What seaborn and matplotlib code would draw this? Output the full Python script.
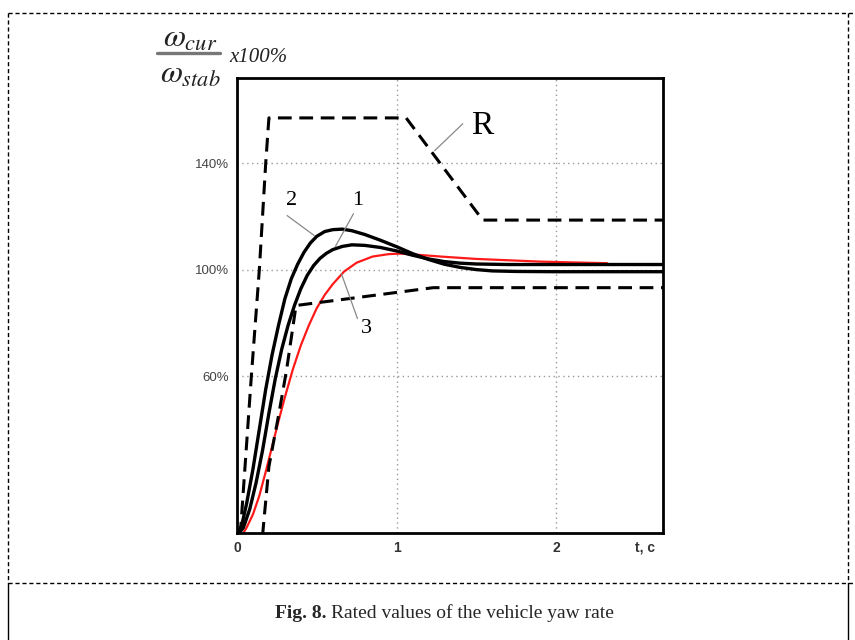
import numpy as np
import pandas as pd
import matplotlib
matplotlib.use("Agg")
import matplotlib.pyplot as plt
from matplotlib.lines import Line2D
import seaborn as sns

# ---- data (t in s, value in %) ----
r_upper_t = [0.02, 0.09, 0.14, 0.18, 0.20, 1.06, 1.54, 2.67]
r_upper_v = [0, 60, 100, 140, 157, 157, 118.6, 118.6]

r_lower_t = [0.16, 0.20, 0.26, 0.31, 0.37, 1.23, 2.67]
r_lower_v = [0, 26, 45, 62, 86.5, 93.2, 93.2]

c2_t = [0, 0.03, 0.06, 0.10, 0.14, 0.18, 0.22, 0.26, 0.30, 0.34, 0.38, 0.42,
        0.46, 0.50, 0.55, 0.60, 0.66, 0.72, 0.80, 0.90, 1.00, 1.10, 1.20, 1.30,
        1.40, 1.50, 1.60, 1.75, 2.00, 2.67]
c2_v = [0, 4, 12, 25, 40, 55, 68, 79, 89, 96.5, 102, 106.5,
        110, 112.5, 114.3, 115, 115.2, 114.6, 113.2, 111, 108.6, 106, 103.8, 102,
        100.8, 100, 99.5, 99.3, 99.2, 99.2]

c1_t = [0, 0.04, 0.08, 0.12, 0.16, 0.20, 0.24, 0.28, 0.32, 0.36, 0.40, 0.44,
        0.48, 0.52, 0.56, 0.60, 0.66, 0.72, 0.80, 0.90, 1.00, 1.10, 1.20, 1.30,
        1.40, 1.50, 1.70, 2.67]
c1_v = [0, 3, 10, 20, 32, 46, 59, 70, 79, 86.5, 92.8, 97.8,
        101.5, 104.2, 106.1, 107.5, 108.7, 109.3, 109.1, 108.3, 107, 105.4, 104, 103,
        102.4, 102.1, 101.9, 101.9]

c3_t = [0.03, 0.06, 0.10, 0.14, 0.18, 0.22, 0.26, 0.30, 0.35, 0.40, 0.45, 0.50,
        0.55, 0.60, 0.67, 0.75, 0.85, 0.95, 1.02, 1.10, 1.30, 1.50, 1.70, 1.90,
        2.10, 2.32]
c3_v = [0, 3, 8, 15, 24, 33.5, 43, 52, 62.5, 71.5, 79, 85.5,
        90.5, 94.5, 99.2, 102.6, 104.9, 105.8, 106, 105.7, 104.8, 104, 103.5, 103,
        102.7, 102.4]

y_ticks = [60, 100, 140]
y_tick_labels = ["60%", "100%", "140%"]
x_ticks = [0, 1, 2]
x_tick_labels = ["0", "1", "2"]

labels_txt = ["2", "1", "3"]
labels_xy = [(0.34, 125.9), (0.755, 125.9), (0.81, 77.8)]
leaders = [((0.314, 120.3), (0.484, 112.8)),
           ((0.73, 121.0), (0.616, 108.6)),
           ((0.654, 98.5), (0.755, 81.6))]
r_label_xy = (1.535, 154)
r_leader = ((1.415, 154.8), (1.239, 144.7))

# ---- figure ----
sns.set_style("white")
plt.rcParams["mathtext.fontset"] = "stix"

W, H = 855, 640
fig = plt.figure(figsize=(W / 100, H / 100), dpi=100)
ax = fig.add_axes([237 / W, 1 - 533 / H, (663 - 237) / W, (533 - 78) / H])

series = [
    ("R_up", r_upper_t, r_upper_v),
    ("R_low", r_lower_t, r_lower_v),
    ("c2", c2_t, c2_v),
    ("c1", c1_t, c1_v),
    ("c3", c3_t, c3_v),
]
frames = []
for name, t, v in series:
    frames.append(pd.DataFrame({"t": t, "v": v, "s": name}))
df = pd.concat(frames, ignore_index=True)

for name, style in [("c3", dict(color="#ff1a1a", lw=1.6)),
                    ("c2", dict(color="black", lw=2.4)),
                    ("c1", dict(color="black", lw=2.4)),
                    ("R_up", dict(color="black", lw=2.2, dashes=(4.5, 2.5))),
                    ("R_low", dict(color="black", lw=2.2, dashes=(4.5, 2.5)))]:
    sub = df[df["s"] == name]
    kw = dict(color=style["color"], linewidth=style["lw"], sort=False,
              estimator=None)
    sns.lineplot(data=sub, x="t", y="v", ax=ax, **kw)
    ax.lines[-1].set_solid_joinstyle("round")
    if "dashes" in style:
        ax.lines[-1].set_dashes(style["dashes"])

ax.set_xlim(0, 2.67)
ax.set_ylim(1, 172)
ax.set_xlabel("")
ax.set_ylabel("")

ax.set_xticks(x_ticks)
ax.set_xticklabels(x_tick_labels, fontfamily="Liberation Sans",
                   fontweight="bold", fontsize=10, color="#333333")
ax.set_yticks(y_ticks)
ax.set_yticklabels(y_tick_labels, fontfamily="Liberation Sans",
                   fontsize=9.5, color="#444444")
ax.tick_params(axis="x", direction="in", length=7, width=1.2, pad=6)
ax.tick_params(axis="y", direction="inout", length=8, width=1.0, pad=2)

for v in y_ticks:
    ax.axhline(v, color="#999999", lw=1.0, ls=(0, (1, 2.5)), zorder=0)
for v in [1, 2]:
    ax.axvline(v, color="#999999", lw=1.0, ls=(0, (1, 2.5)), zorder=0)

for s in ax.spines.values():
    s.set_linewidth(2.0)
    s.set_color("black")
    s.set_visible(True)

# curve labels
for txt, (x, y) in zip(labels_txt, labels_xy):
    ax.text(x, y, txt, fontfamily="Liberation Serif", fontsize=16,
            ha="center", va="center", color="black")
for (p, q) in leaders:
    ax.plot([p[0], q[0]], [p[1], q[1]], color="#888888", lw=0.9)
ax.text(r_label_xy[0], r_label_xy[1], "R", fontfamily="Liberation Serif",
        fontsize=24, ha="center", va="center", color="black")
ax.plot([r_leader[0][0], r_leader[1][0]], [r_leader[0][1], r_leader[1][1]],
        color="#888888", lw=0.9)

# x axis unit label
fig.text(645 / W, 1 - 548 / H, "t, c", fontfamily="Liberation Sans",
         fontweight="bold", fontsize=10, color="#333333",
         ha="center", va="center")

# y axis label (fraction)
fig.text(190 / W, 1 - 38 / H, r"$\omega_{cur}$", fontsize=23,
         ha="center", va="center", color="#222222")
fig.add_artist(Line2D([157 / W, 220 / W], [1 - 53 / H, 1 - 53 / H],
                      color="#777777", lw=2.4, transform=fig.transFigure))
fig.text(229 / W, 1 - 57 / H, "x100%", fontfamily="Liberation Serif",
         fontstyle="italic", fontsize=15, ha="left", va="center",
         color="#222222")
fig.text(190 / W, 1 - 74 / H, r"$\omega_{stab}$", fontsize=23,
         ha="center", va="center", color="#222222")

# frame
dash = (0, (3, 2))
fig.add_artist(Line2D([8 / W, 855 / W], [1 - 13 / H, 1 - 13 / H], color="black",
                      lw=1.0, ls=dash, transform=fig.transFigure))
fig.add_artist(Line2D([8 / W, 8 / W], [1 - 13 / H, 1 - 583 / H], color="black",
                      lw=1.0, ls=dash, transform=fig.transFigure))
fig.add_artist(Line2D([848 / W, 848 / W], [1 - 13 / H, 1 - 583 / H], color="black",
                      lw=1.0, ls=dash, transform=fig.transFigure))
fig.add_artist(Line2D([8 / W, 855 / W], [1 - 583 / H, 1 - 583 / H], color="black",
                      lw=1.0, ls=dash, transform=fig.transFigure))
fig.add_artist(Line2D([8 / W, 8 / W], [1 - 583 / H, 0], color="black",
                      lw=1.0, transform=fig.transFigure))
fig.add_artist(Line2D([848 / W, 848 / W], [1 - 583 / H, 0], color="black",
                      lw=1.0, transform=fig.transFigure))

# caption
fig.text(326 / W, 1 - 613 / H, "Fig. 8.", fontfamily="Liberation Serif",
         fontweight="bold", fontsize=14, ha="right", va="center")
fig.text(331 / W, 1 - 613 / H, "Rated values of the vehicle yaw rate",
         fontfamily="Liberation Serif", fontsize=14, ha="left", va="center")

fig.savefig("out.png", dpi=100)
